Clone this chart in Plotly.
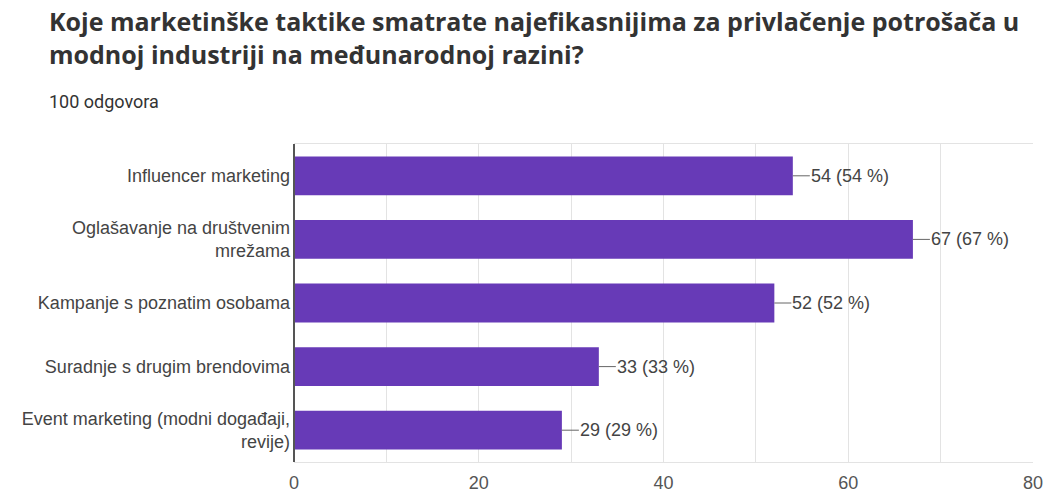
import plotly.graph_objects as go

categories = [
    "Influencer marketing",
    "Oglašavanje na društvenim<br>mrežama",
    "Kampanje s poznatim osobama",
    "Suradnje s drugim brendovima",
    "Event marketing (modni događaji,<br>revije)",
]
counts = [54, 67, 52, 33, 29]
percents = [54, 67, 52, 33, 29]
tick_values = [0, 20, 40, 60, 80]
title_text = "Koje marketinške taktike smatrate najefikasnijima za privlačenje potrošača u<br>modnoj industriji na međunarodnoj razini?"
subtitle_text = "100 odgovora"

W, H = 1043, 494
L, R, T, B = 294, 10, 144, 32

fig = go.Figure(go.Bar(
    x=counts, y=categories, orientation="h",
    marker=dict(color="#673AB7", line=dict(width=0)),
    width=0.61,
    hoverinfo="skip",
))

for c, v, p in zip(categories, counts, percents):
    fig.add_annotation(
        x=v, y=c, text=f"{v} ({p} %)",
        showarrow=True, arrowhead=0, arrowwidth=1, arrowcolor="#666666",
        ax=17, ay=0, xanchor="left", borderpad=0,
        font=dict(family="Liberation Sans, Arial", size=18, color="#444444"),
    )

fig.add_annotation(
    text=title_text, xref="paper", yref="paper",
    x=(47 - L) / (W - L - R), y=1 + (T - 2) / (H - T - B),
    xanchor="left", yanchor="top", showarrow=False, align="left",
    font=dict(family="Open Sans", size=25, color="#333333", weight="bold"),
)
fig.add_annotation(
    text=subtitle_text, xref="paper", yref="paper",
    x=(47 - L) / (W - L - R), y=1 + (T - 89) / (H - T - B),
    xanchor="left", yanchor="top", showarrow=False, align="left",
    font=dict(family="Roboto", size=18, color="#333333"),
)

fig.update_layout(
    width=W, height=H,
    margin=dict(l=L, r=R, t=T, b=B, autoexpand=False),
    paper_bgcolor="white", plot_bgcolor="white",
    showlegend=False,
    xaxis=dict(
        range=[0, 80], tickvals=tick_values, showgrid=True,
        gridcolor="#e3e3e3", gridwidth=1,
        minor=dict(dtick=10, showgrid=True, gridcolor="#e3e3e3"),
        showline=True, linecolor="#e3e3e3", linewidth=1, mirror=True,
        zeroline=False, ticks="", ticklen=0, ticklabelstandoff=4,
        ticklabeloverflow="allow",
        tickfont=dict(family="Liberation Sans, Arial", size=18, color="#555555"),
        fixedrange=True,
    ),
    yaxis=dict(
        autorange="reversed", showgrid=False, zeroline=False,
        showline=False, ticks="", ticklabelstandoff=3,
        tickfont=dict(family="Liberation Sans, Arial", size=18, color="#444444"),
        fixedrange=True,
    ),
    shapes=[dict(type="line", xref="paper", yref="paper", x0=0, x1=0, y0=0, y1=1,
                 line=dict(color="#555555", width=2))],
)

fig.write_html("out.html", config={"displayModeBar": False},
               post_script="document.body.style.margin='0';")
